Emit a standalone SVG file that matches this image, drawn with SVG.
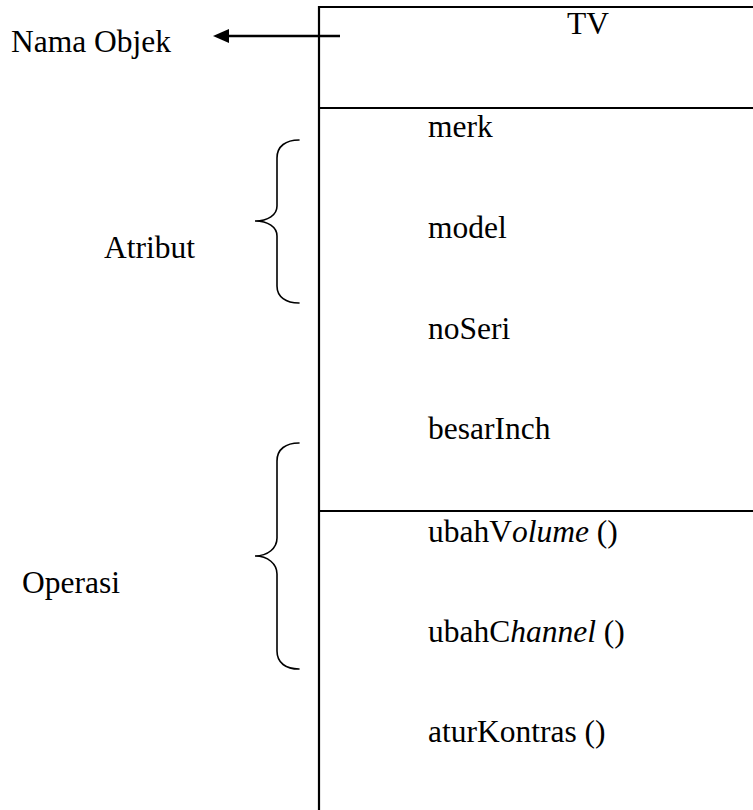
<svg xmlns="http://www.w3.org/2000/svg" width="753" height="810" viewBox="0 0 753 810">
  <style>
    text { font-family: 'Liberation Serif', 'DejaVu Serif', serif; font-size: 31.5px; fill: #000; }
    .i { font-style: italic; }
    .frame { stroke: #000; stroke-width: 2.2; fill: none; }
    .brace { stroke: #000; stroke-width: 1.6; fill: none; stroke-linecap: round; }
    .conn { stroke: #000; stroke-width: 2.6; fill: none; }
  </style>
  <defs>
    <marker id="arrowhead" viewBox="0 0 16 14" refX="0" refY="7" markerWidth="16" markerHeight="14" markerUnits="userSpaceOnUse" orient="auto-start-reverse">
      <path d="M0,0 L16,7 L0,14 Z" fill="#000"/>
    </marker>
  </defs>
  <rect width="753" height="810" fill="#fff"/>

  <!-- class box: open to the right and bottom -->
  <g id="class-box">
    <path class="frame" d="M319,810 L319,7 L753,7"/>
    <line class="frame" x1="319" y1="108" x2="753" y2="108"/>
    <line class="frame" x1="319" y1="511" x2="753" y2="511"/>
  </g>

  <g font-family="Liberation Serif, DejaVu Serif, serif">
    <g id="class-name">
      <text x="588" y="34" text-anchor="middle">TV</text>
    </g>

    <g id="attributes">
      <text x="428" y="137">merk</text>
      <text x="428" y="238">model</text>
      <text x="428" y="339">noSeri</text>
      <text x="428" y="439">besarInch</text>
    </g>

    <g id="operations">
      <text x="428" y="542">ubahV<tspan class="i">olume</tspan> ()</text>
      <text x="428" y="642">ubahC<tspan class="i">hannel</tspan> ()</text>
      <text x="428" y="742">aturKontras ()</text>
    </g>

    <g id="label-nama-objek">
      <text x="11" y="52">Nama Objek</text>
    </g>

    <g id="label-atribut">
      <path class="brace" d="M299,140 C286,140 277,146 277,158 L277,206 C277,215 268,221 255,221 C268,221 277,227 277,236 L277,286 C277,297 286,303 299,303"/>
      <text x="104" y="258">Atribut</text>
    </g>

    <g id="label-operasi">
      <path class="brace" d="M299,443 C286,443 277,449 277,461 L277,538 C277,548 268,556 255,556 C268,556 277,564 277,574 L277,651 C277,663 286,669 299,669"/>
      <text x="22" y="593">Operasi</text>
    </g>
  </g>

  <g id="connectors">
    <line class="conn" x1="340" y1="36" x2="229" y2="36" marker-end="url(#arrowhead)"/>
  </g>
</svg>
